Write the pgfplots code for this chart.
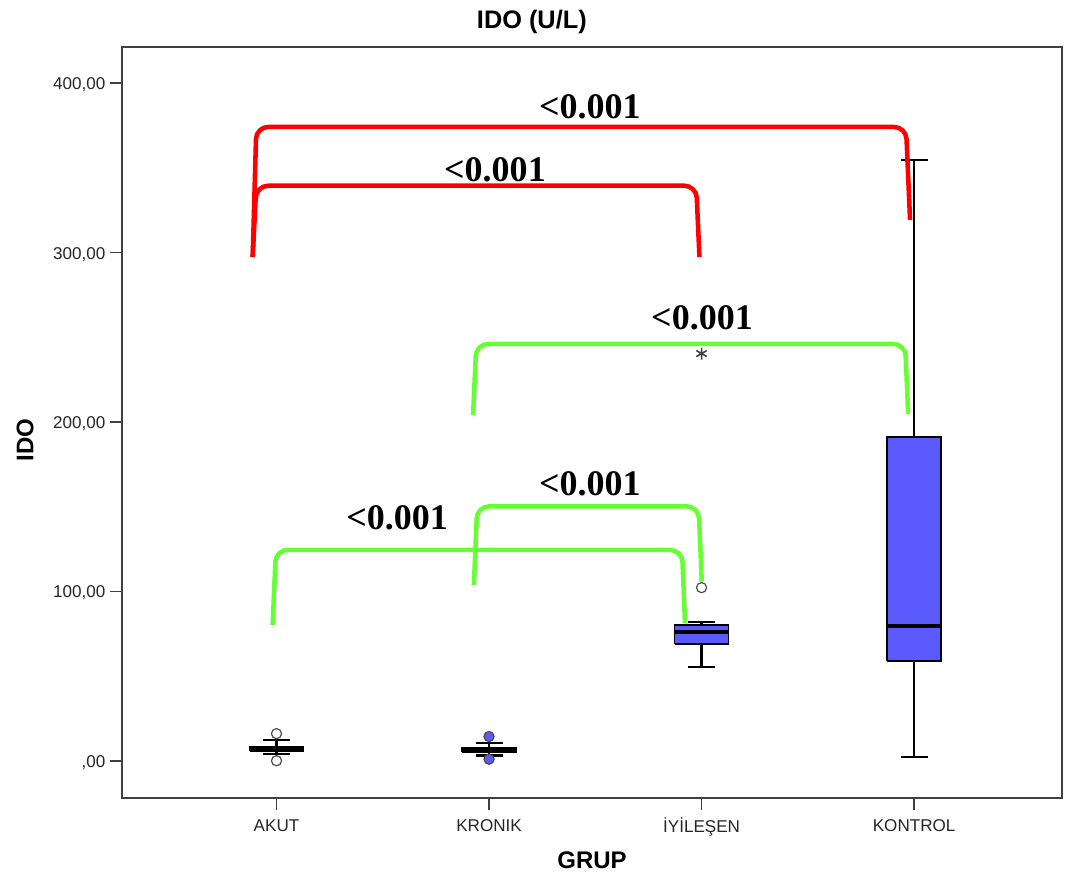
\documentclass[border=0pt]{standalone}
\usepackage{fontspec}
\setmainfont{Liberation Sans}
\newfontfamily\timesf{Liberation Serif}
\usepackage{pgfplots}
\pgfplotsset{compat=1.18}
\definecolor{boxblue}{RGB}{90,90,255}
\definecolor{pgreen}{RGB}{102,255,51}
\definecolor{axgray}{RGB}{64,64,64}
\begin{document}
\begin{tikzpicture}
\begin{axis}[
  scale only axis,
  width=705pt, height=563.25pt,
  xmin=0.273, xmax=4.696,
  ymin=-22.0, ymax=421.4,
  clip=false,
  axis line style={axgray, line width=1.5pt},
  xtick={1,2,3,4},
  xticklabels={AKUT,KRONIK,İYİLEŞEN,KONTROL},
  ytick={0,100,200,300,400},
  yticklabels={{,00},{100,00},{200,00},{300,00},{400,00}},
  tick align=outside,
  major tick length=9pt,
  tick style={axgray, line width=1.2pt},
  xtick pos=bottom, ytick pos=left,
  typeset ticklabels with strut,
  ticklabel style={font=\fontsize{12.8}{14}\selectfont, text=black!85},
  xticklabel style={yshift=-2.5pt},
  yticklabel style={yshift=-2pt},
  xlabel={GRUP},
  ylabel={IDO},
  xlabel style={font=\bfseries\fontsize{18}{20}\selectfont, at={(0.5,0)}, anchor=center, yshift=-46.5pt},
  ylabel style={font=\bfseries\fontsize{18}{20}\selectfont, at={(0,0.477)}, anchor=center, yshift=72.75pt},
  title={IDO (U/L)},
  title style={font=\bfseries\fontsize{19}{21}\selectfont, at={(0.436,1)}, anchor=center, yshift=12.5pt},
  whisk/.style={black, line width=1.6pt},
  bx/.style={fill=boxblue, draw=black, line width=1.1pt},
  med/.style={black, line width=3pt},
]
\coordinate (SW) at (rel axis cs:0,0);
\coordinate (NE) at (rel axis cs:1,1);
% ---- AKUT (1)
\addplot[whisk] coordinates {(1,8.0) (1,12.4)};
\addplot[whisk] coordinates {(0.9365,12.4) (1.0635,12.4)};
\addplot[whisk] coordinates {(1,5.5) (1,4.2)};
\addplot[whisk] coordinates {(0.9365,4.2) (1.0635,4.2)};
\addplot[bx] coordinates {(0.873,5.5) (1.127,5.5) (1.127,8.0) (0.873,8.0) (0.873,5.5)};
\addplot[med] coordinates {(0.873,7.0) (1.127,7.0)};
% ---- KRONIK (2)
\addplot[whisk] coordinates {(2,7.6) (2,10.4)};
\addplot[whisk] coordinates {(1.9365,10.4) (2.0635,10.4)};
\addplot[whisk] coordinates {(2,5.0) (2,3.1)};
\addplot[whisk] coordinates {(1.9365,3.1) (2.0635,3.1)};
\addplot[bx] coordinates {(1.873,5.0) (2.127,5.0) (2.127,7.6) (1.873,7.6) (1.873,5.0)};
\addplot[med] coordinates {(1.873,6.3) (2.127,6.3)};
% ---- IYILESEN (3)
\addplot[whisk] coordinates {(3,80.1) (3,81.8)};
\addplot[whisk] coordinates {(2.9365,81.8) (3.0635,81.8)};
\addplot[whisk] coordinates {(3,69.0) (3,55.6)};
\addplot[whisk] coordinates {(2.9365,55.6) (3.0635,55.6)};
\addplot[bx] coordinates {(2.873,69.0) (3.127,69.0) (3.127,80.1) (2.873,80.1) (2.873,69.0)};
\addplot[med] coordinates {(2.873,75.9) (3.127,75.9)};
% ---- KONTROL (4)
\addplot[whisk] coordinates {(4,191.1) (4,354.6)};
\addplot[whisk] coordinates {(3.9365,354.6) (4.0635,354.6)};
\addplot[whisk] coordinates {(4,58.8) (4,2.0)};
\addplot[whisk] coordinates {(3.9365,2.0) (4.0635,2.0)};
\addplot[bx] coordinates {(3.873,58.8) (4.127,58.8) (4.127,191.1) (3.873,191.1) (3.873,58.8)};
\addplot[med] coordinates {(3.873,79.5) (4.127,79.5)};
% ---- outliers
\addplot[only marks, mark=*, mark size=3.8pt, mark options={fill=white, draw=black!70, line width=0.9pt}]
  coordinates {(1,16.0) (1,0.0) (3,102.2)};
\addplot[only marks, mark=*, mark size=3.8pt, mark options={fill=boxblue, draw=black!70, line width=0.9pt}]
  coordinates {(2,14.3) (2,0.9)};
\addplot[only marks, mark=asterisk, mark size=4.5pt, mark options={black!75, line width=1.2pt}]
  coordinates {(3,240.4)};

% ---- brackets
\draw[red, line width=3.4pt, rounded corners=9pt] (axis cs:0.888,297.4) -- (axis cs:0.905,374.2) -- (axis cs:3.962,374.2) -- (axis cs:3.981,319.3);
\draw[red, line width=3.4pt, rounded corners=9pt] (axis cs:0.888,297.4) -- (axis cs:0.905,339.5) -- (axis cs:2.975,339.5) -- (axis cs:2.990,297.4);
\draw[pgreen, line width=3.4pt, rounded corners=9pt] (axis cs:1.925,204.2) -- (axis cs:1.940,246.1) -- (axis cs:3.958,246.1) -- (axis cs:3.972,204.8);
\draw[pgreen, line width=3.4pt, rounded corners=9pt] (axis cs:1.929,103.8) -- (axis cs:1.944,150.2) -- (axis cs:2.986,150.2) -- (axis cs:3.001,105.7);
\draw[pgreen, line width=3.4pt, rounded corners=9pt] (axis cs:0.982,80.2) -- (axis cs:0.997,124.5) -- (axis cs:2.908,124.5) -- (axis cs:2.922,81.3);

\node[font=\timesf\bfseries\fontsize{27}{29}\selectfont] at (axis cs:2.475,385.9) {<0.001};
\node[font=\timesf\bfseries\fontsize{27}{29}\selectfont] at (axis cs:2.028,348.8) {<0.001};
\node[font=\timesf\bfseries\fontsize{27}{29}\selectfont] at (axis cs:3.002,261.4) {<0.001};
\node[font=\timesf\bfseries\fontsize{27}{29}\selectfont] at (axis cs:2.475,163.5) {<0.001};
\node[font=\timesf\bfseries\fontsize{27}{29}\selectfont] at (axis cs:1.567,143.3) {<0.001};
\end{axis}
\pgfresetboundingbox
\path[use as bounding box] (SW) ++(-91.5pt,-62.25pt) rectangle (NE) ++(2.25pt,35.25pt);
\end{tikzpicture}
\end{document}
